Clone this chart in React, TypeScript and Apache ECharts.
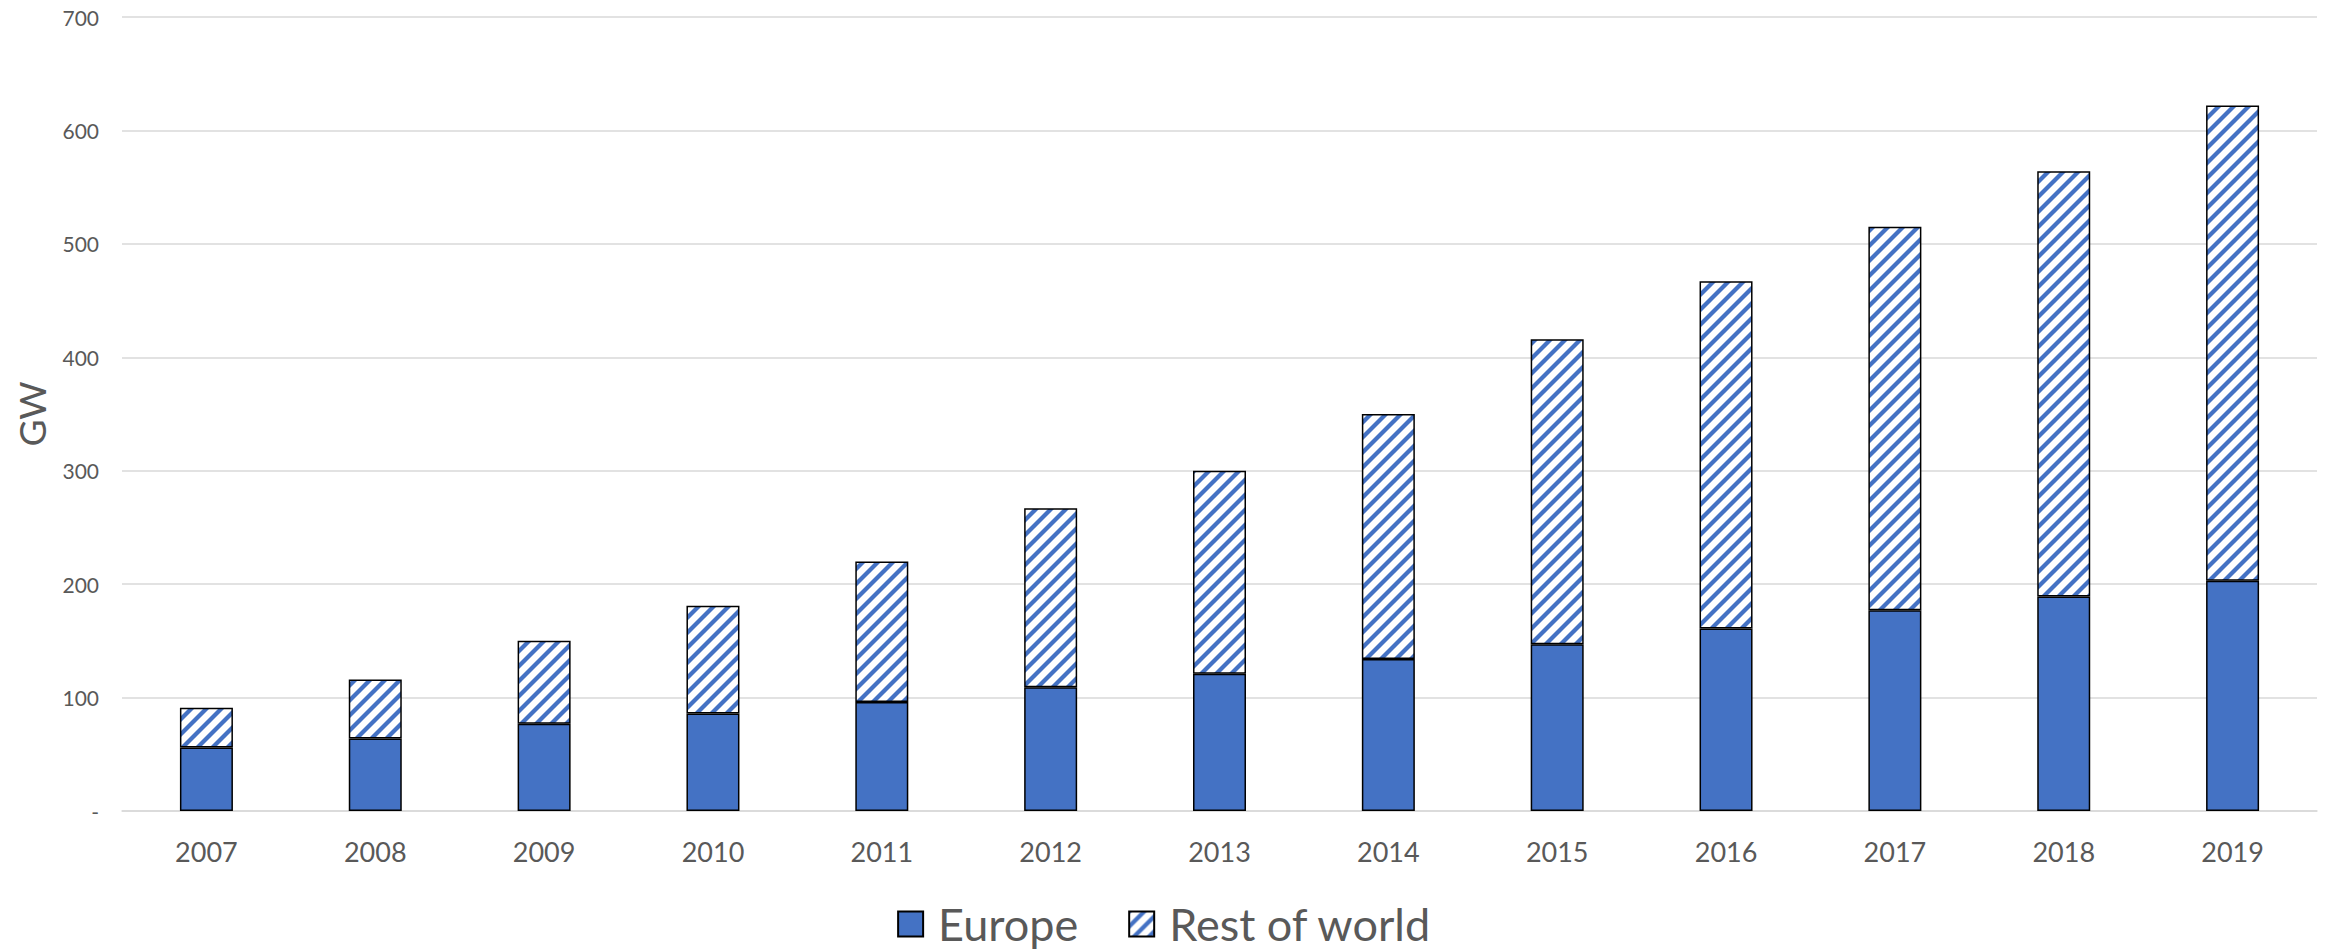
import React, { useEffect, useRef } from "react";
import * as echarts from "echarts";

const years = ["2007", "2008", "2009", "2010", "2011", "2012", "2013", "2014", "2015", "2016", "2017", "2018", "2019"];
const europe = [56, 64, 77, 86, 96, 109, 121, 134, 147, 161, 177, 189, 203];
const restOfWorld = [35, 52, 73, 95, 124, 158, 179, 216, 269, 306, 338, 375, 419];
const yTicks = { min: 0, max: 700, interval: 100 };

const BLUE = "#4472C4";
const TEXT = "#595959";
const GRID = "#d9d9d9";
const FONT = "Lato, 'Open Sans', sans-serif";

// Diagonal "/" hatch tile: blue stripes on white.
function makeHatch(period: number, stripe: number) {
  const c = document.createElement("canvas");
  c.width = period;
  c.height = period;
  const ctx = c.getContext("2d")!;
  ctx.fillStyle = "#ffffff";
  ctx.fillRect(0, 0, period, period);
  ctx.strokeStyle = BLUE;
  ctx.lineWidth = stripe / Math.SQRT2;
  ctx.lineCap = "square";
  const segs = [
    [-3, period + 3, period + 3, -3],
    [-3, 3, 3, -3],
    [period - 3, period + 3, period + 3, period - 3],
  ];
  for (const [x1, y1, x2, y2] of segs) {
    ctx.beginPath();
    ctx.moveTo(x1, y1);
    ctx.lineTo(x2, y2);
    ctx.stroke();
  }
  return {
    image: c.toDataURL(),
    repeat: "repeat",
    imageWidth: period,
    imageHeight: period,
  };
}

export default function App() {
  const ref = useRef<HTMLDivElement>(null);

  useEffect(() => {
    if (!ref.current) return;
    const chart = echarts.init(ref.current, undefined, { renderer: "svg" });
    const hatch = makeHatch(15, 6);

    chart.setOption({
      animation: false,
      backgroundColor: "#ffffff",
      grid: { left: 122, right: 12, top: 17, bottom: 139, containLabel: false },
      legend: {
        left: "center",
        top: 896,
        itemWidth: 25,
        itemHeight: 25,
        itemGap: 50,
        icon: "rect",
        textStyle: { color: TEXT, fontSize: 45, fontFamily: FONT, lineHeight: 46, padding: [0, 0, 0, 10] },
        data: ["Europe", "Rest of world"],
      },
      xAxis: {
        type: "category",
        data: years,
        axisLine: { show: true, lineStyle: { color: GRID, width: 1.5 } },
        axisTick: { show: false },
        axisLabel: { color: TEXT, fontSize: 27, fontFamily: FONT, margin: 27 },
      },
      yAxis: {
        type: "value",
        min: yTicks.min,
        max: yTicks.max,
        interval: yTicks.interval,
        name: "GW",
        nameLocation: "middle",
        nameGap: 72,
        nameTextStyle: { color: TEXT, fontSize: 37, fontFamily: FONT },
        axisLine: { show: false },
        axisTick: { show: false },
        splitLine: { lineStyle: { color: GRID, width: 1.5 } },
        axisLabel: {
          color: TEXT,
          fontSize: 21,
          fontFamily: FONT,
          margin: 23,
          formatter: (v: number) => (v === 0 ? "-" : String(v)),
        },
      },
      series: [
        {
          name: "Europe",
          type: "bar",
          stack: "total",
          barWidth: 53,
          data: europe,
          itemStyle: { color: BLUE, borderColor: "#000000", borderWidth: 1.5 },
        },
        {
          name: "Rest of world",
          type: "bar",
          stack: "total",
          barWidth: 53,
          data: restOfWorld,
          itemStyle: { color: hatch, borderColor: "#000000", borderWidth: 1.5 },
        },
      ],
    });

    return () => chart.dispose();
  }, []);

  return (
    <div
      ref={ref}
      style={{ position: "fixed", left: 0, top: 0, width: 2329, height: 950, background: "#fff" }}
    />
  );
}
